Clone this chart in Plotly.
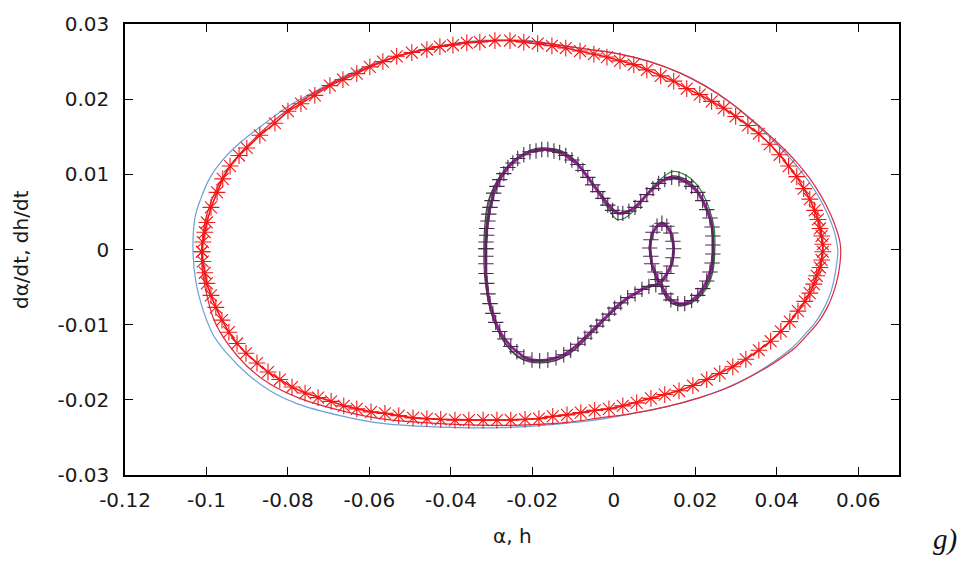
import plotly.graph_objects as go

# ---------------- data ----------------
# Large loop: sampled trajectory (red asterisks, linespoints)
outer_star_x = [-0.1011, -0.1009, -0.1004, -0.0999, -0.0989, -0.0974, -0.0960, -0.0942, -0.0920, -0.0901,
                -0.0869, -0.0832, -0.0800, -0.0768, -0.0734, -0.0697, -0.0665, -0.0631, -0.0599, -0.0567,
                -0.0533, -0.0496, -0.0459, -0.0427, -0.0395, -0.0361, -0.0329, -0.0292, -0.0255, -0.0221,
                -0.0187, -0.0152, -0.0118, -0.0083, -0.0049, -0.0017, 0.0015, 0.0049, 0.0081, 0.0115,
                0.0147, 0.0179, 0.0211, 0.0240, 0.0270, 0.0299, 0.0329, 0.0356, 0.0383, 0.0407,
                0.0429, 0.0449, 0.0466, 0.0481, 0.0493, 0.0501, 0.0506, 0.0510, 0.0513, 0.0513,
                0.0510, 0.0506, 0.0498, 0.0491, 0.0481, 0.0469, 0.0452, 0.0432, 0.0410, 0.0385,
                0.0356, 0.0324, 0.0292, 0.0260, 0.0228, 0.0194, 0.0160, 0.0125, 0.0091, 0.0056,
                0.0022, -0.0012, -0.0047, -0.0081, -0.0115, -0.0150, -0.0184, -0.0218, -0.0253, -0.0287,
                -0.0321, -0.0356, -0.0390, -0.0425, -0.0459, -0.0493, -0.0528, -0.0562, -0.0596, -0.0631,
                -0.0663, -0.0694, -0.0726, -0.0758, -0.0790, -0.0820, -0.0849, -0.0876, -0.0903, -0.0925,
                -0.0945, -0.0962, -0.0977, -0.0989, -0.0999, -0.1004, -0.1009]
outer_star_y = [-0.0003, 0.0010, 0.0023, 0.0036, 0.0056, 0.0076, 0.0094, 0.0111, 0.0125, 0.0135,
                0.0152, 0.0168, 0.0184, 0.0194, 0.0205, 0.0218, 0.0226, 0.0234, 0.0243, 0.0250,
                0.0257, 0.0262, 0.0266, 0.0270, 0.0272, 0.0275, 0.0276, 0.0278, 0.0278, 0.0276,
                0.0274, 0.0271, 0.0268, 0.0264, 0.0260, 0.0256, 0.0251, 0.0246, 0.0239, 0.0231,
                0.0224, 0.0214, 0.0206, 0.0197, 0.0188, 0.0177, 0.0165, 0.0154, 0.0140, 0.0126,
                0.0111, 0.0097, 0.0081, 0.0067, 0.0052, 0.0040, 0.0028, 0.0018, 0.0007, -0.0003,
                -0.0014, -0.0024, -0.0035, -0.0046, -0.0058, -0.0069, -0.0082, -0.0096, -0.0109, -0.0122,
                -0.0134, -0.0146, -0.0156, -0.0165, -0.0173, -0.0181, -0.0188, -0.0193, -0.0198, -0.0204,
                -0.0208, -0.0212, -0.0214, -0.0217, -0.0220, -0.0222, -0.0225, -0.0226, -0.0227, -0.0227,
                -0.0227, -0.0227, -0.0227, -0.0226, -0.0225, -0.0224, -0.0221, -0.0218, -0.0216, -0.0212,
                -0.0208, -0.0202, -0.0197, -0.0191, -0.0183, -0.0173, -0.0163, -0.0151, -0.0138, -0.0125,
                -0.0110, -0.0094, -0.0077, -0.0061, -0.0045, -0.0031, -0.0016]

# Large loop: thin blue curve
outer_blue_x = [-0.1033, -0.1028, -0.1013, -0.0991, -0.0962, -0.0918, -0.0864, -0.0795, -0.0721, -0.0648,
                -0.0574, -0.0501, -0.0427, -0.0353, -0.0280, -0.0206, -0.0133, -0.0059, 0.0015, 0.0088,
                0.0162, 0.0223, 0.0285, 0.0346, 0.0395, 0.0437, 0.0471, 0.0501, 0.0525, 0.0540,
                0.0547, 0.0550, 0.0547, 0.0542, 0.0533, 0.0518, 0.0496, 0.0469, 0.0437, 0.0388,
                0.0334, 0.0272, 0.0211, 0.0130, 0.0047, -0.0034, -0.0115, -0.0199, -0.0280, -0.0378,
                -0.0476, -0.0574, -0.0672, -0.0778, -0.0844, -0.0901, -0.0947, -0.0984, -0.1011, -0.1026]
outer_blue_y = [-0.0003, 0.0043, 0.0069, 0.0096, 0.0118, 0.0142, 0.0165, 0.0192, 0.0214, 0.0234,
                0.0250, 0.0262, 0.0271, 0.0277, 0.0279, 0.0278, 0.0272, 0.0266, 0.0260, 0.0250,
                0.0235, 0.0218, 0.0196, 0.0168, 0.0143, 0.0119, 0.0096, 0.0072, 0.0047, 0.0026,
                0.0010, -0.0003, -0.0019, -0.0036, -0.0056, -0.0076, -0.0096, -0.0113, -0.0131, -0.0151,
                -0.0169, -0.0185, -0.0197, -0.0209, -0.0218, -0.0226, -0.0231, -0.0235, -0.0237, -0.0237,
                -0.0235, -0.0231, -0.0221, -0.0205, -0.0188, -0.0165, -0.0140, -0.0113, -0.0076, -0.0043]

# Large loop: thin red curve
outer_red_x = [-0.1011, -0.1004, -0.0979, -0.0937, -0.0874, -0.0795, -0.0709, -0.0623, -0.0525, -0.0427,
               -0.0353, -0.0280, -0.0206, -0.0133, -0.0059, 0.0015, 0.0088, 0.0162, 0.0223, 0.0285,
               0.0349, 0.0400, 0.0444, 0.0479, 0.0508, 0.0532, 0.0547, 0.0555, 0.0557, 0.0555,
               0.0550, 0.0540, 0.0525, 0.0503, 0.0476, 0.0444, 0.0393, 0.0336, 0.0275, 0.0211,
               0.0130, 0.0047, -0.0034, -0.0115, -0.0199, -0.0280, -0.0378, -0.0476, -0.0574, -0.0672,
               -0.0771, -0.0844, -0.0901, -0.0947, -0.0982, -0.1001, -0.1011]
outer_red_y = [-0.0003, 0.0036, 0.0076, 0.0115, 0.0152, 0.0188, 0.0216, 0.0238, 0.0258, 0.0270,
               0.0276, 0.0278, 0.0277, 0.0272, 0.0266, 0.0260, 0.0250, 0.0235, 0.0218, 0.0196,
               0.0168, 0.0143, 0.0119, 0.0096, 0.0072, 0.0047, 0.0026, 0.0010, -0.0003, -0.0019,
               -0.0036, -0.0056, -0.0076, -0.0096, -0.0113, -0.0131, -0.0151, -0.0169, -0.0185, -0.0197,
               -0.0209, -0.0218, -0.0224, -0.0230, -0.0233, -0.0234, -0.0233, -0.0230, -0.0225, -0.0214,
               -0.0198, -0.0179, -0.0155, -0.0126, -0.0093, -0.0056, -0.0023]

# Inner loop: sampled trajectory (purple line, + markers)
inner_pt_x = [-0.0314, -0.0314, -0.0312, -0.0312, -0.0309, -0.0307, -0.0304, -0.0299, -0.0295, -0.0287,
              -0.0280, -0.0270, -0.0260, -0.0248, -0.0236, -0.0221, -0.0206, -0.0191, -0.0177, -0.0162,
              -0.0147, -0.0133, -0.0118, -0.0103, -0.0088, -0.0076, -0.0064, -0.0052, -0.0039, -0.0027,
              -0.0015, -0.0003, 0.0010, 0.0022, 0.0037, 0.0052, 0.0066, 0.0081, 0.0096, 0.0110,
              0.0125, 0.0142, 0.0160, 0.0177, 0.0191, 0.0206, 0.0218, 0.0228, 0.0236, 0.0241,
              0.0243, 0.0243, 0.0243, 0.0241, 0.0236, 0.0228, 0.0218, 0.0206, 0.0191, 0.0174,
              0.0157, 0.0140, 0.0128, 0.0118, 0.0108, 0.0101, 0.0093, 0.0091, 0.0088, 0.0091,
              0.0096, 0.0106, 0.0118, 0.0130, 0.0140, 0.0145, 0.0147, 0.0145, 0.0140, 0.0130,
              0.0118, 0.0103, 0.0086, 0.0069, 0.0052, 0.0034, 0.0017, 0.0002, -0.0012, -0.0027,
              -0.0042, -0.0056, -0.0071, -0.0088, -0.0106, -0.0123, -0.0142, -0.0162, -0.0182, -0.0201,
              -0.0221, -0.0238, -0.0253, -0.0268, -0.0280, -0.0290, -0.0297, -0.0304, -0.0309, -0.0312,
              -0.0314, -0.0314, -0.0314]
inner_pt_y = [0.0001, 0.0010, 0.0019, 0.0028, 0.0038, 0.0047, 0.0056, 0.0065, 0.0075, 0.0084,
              0.0093, 0.0101, 0.0109, 0.0115, 0.0121, 0.0126, 0.0130, 0.0131, 0.0133, 0.0133,
              0.0131, 0.0129, 0.0125, 0.0119, 0.0113, 0.0105, 0.0096, 0.0086, 0.0077, 0.0068,
              0.0059, 0.0052, 0.0048, 0.0048, 0.0051, 0.0056, 0.0064, 0.0073, 0.0081, 0.0088,
              0.0093, 0.0096, 0.0094, 0.0090, 0.0084, 0.0076, 0.0065, 0.0053, 0.0042, 0.0030,
              0.0018, 0.0006, -0.0006, -0.0018, -0.0030, -0.0042, -0.0052, -0.0061, -0.0068, -0.0072,
              -0.0072, -0.0067, -0.0059, -0.0049, -0.0040, -0.0030, -0.0019, -0.0009, 0.0002, 0.0013,
              0.0023, 0.0031, 0.0035, 0.0031, 0.0022, 0.0011, 0.0001, -0.0011, -0.0022, -0.0032,
              -0.0042, -0.0047, -0.0049, -0.0053, -0.0059, -0.0064, -0.0071, -0.0078, -0.0086, -0.0094,
              -0.0102, -0.0110, -0.0118, -0.0126, -0.0134, -0.0140, -0.0144, -0.0147, -0.0148, -0.0147,
              -0.0143, -0.0136, -0.0129, -0.0119, -0.0109, -0.0097, -0.0085, -0.0072, -0.0059, -0.0045,
              -0.0032, -0.0019, -0.0009]

# Inner loop: thin dark curve
inner_dark_x = [-0.0319, -0.0317, -0.0309, -0.0292, -0.0267, -0.0236, -0.0194, -0.0162, -0.0128, -0.0096,
                -0.0064, -0.0034, -0.0010, 0.0010, 0.0029, 0.0059, 0.0093, 0.0125, 0.0145, 0.0177,
                0.0206, 0.0228, 0.0241, 0.0246, 0.0241, 0.0223, 0.0194, 0.0162, 0.0133, 0.0115,
                0.0096, 0.0088, 0.0096, 0.0118, 0.0137, 0.0147, 0.0140, 0.0118, 0.0076, 0.0039,
                -0.0005, -0.0054, -0.0103, -0.0145, -0.0182, -0.0226, -0.0260, -0.0287, -0.0307, -0.0317]
inner_dark_y = [0.0001, 0.0030, 0.0063, 0.0086, 0.0107, 0.0123, 0.0134, 0.0135, 0.0131, 0.0119,
                0.0098, 0.0076, 0.0059, 0.0049, 0.0049, 0.0061, 0.0081, 0.0094, 0.0098, 0.0093,
                0.0078, 0.0056, 0.0030, 0.0001, -0.0030, -0.0052, -0.0069, -0.0075, -0.0067, -0.0049,
                -0.0027, 0.0001, 0.0023, 0.0036, 0.0027, 0.0001, -0.0023, -0.0043, -0.0052, -0.0064,
                -0.0084, -0.0111, -0.0136, -0.0148, -0.0151, -0.0146, -0.0130, -0.0105, -0.0072, -0.0036]

# Inner loop: thin green curve
inner_green_x = [-0.0317, -0.0314, -0.0307, -0.0290, -0.0265, -0.0233, -0.0191, -0.0162, -0.0128, -0.0096,
                 -0.0064, -0.0034, -0.0012, 0.0007, 0.0027, 0.0059, 0.0093, 0.0125, 0.0145, 0.0179,
                 0.0211, 0.0233, 0.0246, 0.0248, 0.0243, 0.0226, 0.0196, 0.0162, 0.0133, 0.0115,
                 0.0096, 0.0088, 0.0096, 0.0118, 0.0137, 0.0147, 0.0140, 0.0118, 0.0076, 0.0039,
                 -0.0005, -0.0054, -0.0103, -0.0145, -0.0182, -0.0226, -0.0260, -0.0287, -0.0307, -0.0314]
inner_green_y = [0.0001, 0.0030, 0.0063, 0.0086, 0.0107, 0.0123, 0.0133, 0.0134, 0.0130, 0.0118,
                 0.0096, 0.0072, 0.0053, 0.0040, 0.0042, 0.0057, 0.0082, 0.0098, 0.0104, 0.0098,
                 0.0081, 0.0056, 0.0030, 0.0001, -0.0030, -0.0053, -0.0069, -0.0075, -0.0067, -0.0049,
                 -0.0027, 0.0001, 0.0023, 0.0036, 0.0027, 0.0001, -0.0023, -0.0043, -0.0052, -0.0064,
                 -0.0084, -0.0111, -0.0136, -0.0148, -0.0150, -0.0145, -0.0129, -0.0104, -0.0072, -0.0036]

x_tickvals = [-0.12, -0.10, -0.08, -0.06, -0.04, -0.02, 0.0, 0.02, 0.04, 0.06]
x_ticktext = ["-0.12", "-0.1", "-0.08", "-0.06", "-0.04", "-0.02", "0", "0.02", "0.04", "0.06"]
y_tickvals = [-0.03, -0.02, -0.01, 0.0, 0.01, 0.02, 0.03]
y_ticktext = ["-0.03", "-0.02", "-0.01", "0", "0.01", "0.02", "0.03"]

x_title = "α, h"
y_title = "dα/dt, dh/dt"
panel_label = "g)"


def closed(a):
    return list(a) + [a[0]]


fig = go.Figure()

fig.add_trace(go.Scatter(x=closed(outer_blue_x), y=closed(outer_blue_y), mode="lines",
                         line=dict(color="#6a9fd8", width=1.2, shape="spline"), hoverinfo="skip"))
fig.add_trace(go.Scatter(x=closed(outer_red_x), y=closed(outer_red_y), mode="lines",
                         line=dict(color="#e0283a", width=1.2, shape="spline"), hoverinfo="skip"))
fig.add_trace(go.Scatter(x=closed(inner_green_x), y=closed(inner_green_y), mode="lines",
                         line=dict(color="#2e8b2e", width=1.2, shape="spline"), hoverinfo="skip"))
fig.add_trace(go.Scatter(x=closed(inner_dark_x), y=closed(inner_dark_y), mode="lines",
                         line=dict(color="#404040", width=1.2, shape="spline"), hoverinfo="skip"))
fig.add_trace(go.Scatter(x=closed(inner_pt_x), y=closed(inner_pt_y), mode="lines+markers",
                         line=dict(color="#931f93", width=2.8),
                         marker=dict(symbol="cross-thin-open", size=11, color="#4a2a50",
                                     line=dict(width=1.1, color="#4a2a50")),
                         hoverinfo="skip"))
fig.add_trace(go.Scatter(x=closed(outer_star_x), y=closed(outer_star_y), mode="lines+markers",
                         line=dict(color="#ff1010", width=1.6),
                         marker=dict(symbol="asterisk-open", size=14, color="#f01818",
                                     line=dict(width=1.1, color="#f01818")),
                         hoverinfo="skip"))

axis_font = dict(family="DejaVu Sans", size=20, color="#1a1a1a")

fig.update_xaxes(range=[-0.12, 0.07], tickvals=x_tickvals, ticktext=x_ticktext,
                 ticks="inside", ticklen=8, tickwidth=1.2, tickcolor="black",
                 showline=True, linecolor="black", linewidth=1.5, mirror="ticks",
                 showgrid=False, zeroline=False, tickfont=axis_font, ticklabelstandoff=6)
fig.update_yaxes(range=[-0.03, 0.03], tickvals=y_tickvals, ticktext=y_ticktext,
                 ticks="inside", ticklen=8, tickwidth=1.2, tickcolor="black",
                 showline=True, linecolor="black", linewidth=1.5, mirror="ticks",
                 showgrid=False, zeroline=False, tickfont=axis_font, ticklabelstandoff=10)

fig.add_annotation(text=x_title, xref="paper", yref="paper", x=0.5, y=-0.136,
                   showarrow=False, font=dict(family="DejaVu Sans", size=20, color="#1a1a1a"),
                   xanchor="center", yanchor="middle")
fig.add_annotation(text=y_title, xref="paper", yref="paper", x=-0.135, y=0.5, textangle=-90,
                   showarrow=False, font=dict(family="DejaVu Sans", size=20, color="#1a1a1a"),
                   xanchor="center", yanchor="middle")
fig.add_annotation(text="<i>" + panel_label + "</i>", xref="paper", yref="paper", x=1.06, y=-0.143,
                   showarrow=False, font=dict(family="Liberation Serif", size=29, color="#111111"),
                   xanchor="center", yanchor="middle")

fig.update_layout(width=968, height=564, margin=dict(l=125, r=69, t=20, b=89),
                  paper_bgcolor="white", plot_bgcolor="white", showlegend=False)

fig.write_html("out.html")
